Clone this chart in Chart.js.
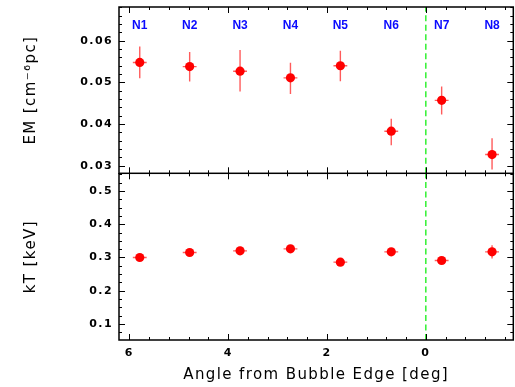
<!DOCTYPE html>
<html lang="en">
<head>
  <meta charset="UTF-8" />
  <title>EM and kT vs angle</title>
  <script src="https://cdn.jsdelivr.net/npm/chart.js"></script>
  <style>
    html, body { margin: 0; padding: 0; background: #fff; }
    #wrap { position: relative; width: 515px; height: 387px; }
  </style>
</head>
<body>
  <div id="wrap">
    <canvas id="emChart" width="515" height="174" style="position:absolute;left:0;top:0"></canvas>
    <canvas id="ktChart" width="515" height="214" style="position:absolute;left:0;top:173px"></canvas>
  </div>

  <script>
    // data
    const regions = ['N1', 'N2', 'N3', 'N4', 'N5', 'N6', 'N7', 'N8'];
    const angle = [5.79, 4.78, 3.76, 2.74, 1.73, 0.70, -0.32, -1.34];
    const angleErr = [0.14, 0.14, 0.14, 0.14, 0.14, 0.14, 0.14, 0.14];
    const emValues = [0.0548, 0.0538, 0.0527, 0.0511, 0.0540, 0.0383, 0.0457, 0.0327];
    const emLow = [0.0510, 0.0502, 0.0478, 0.0472, 0.0503, 0.0349, 0.0423, 0.0291];
    const emHigh = [0.0586, 0.0573, 0.0578, 0.0547, 0.0576, 0.0413, 0.0490, 0.0366];
    const ktValues = [0.300, 0.315, 0.320, 0.326, 0.286, 0.317, 0.291, 0.317];
    const ktErr = [0.008, 0.008, 0.012, 0.010, 0.008, 0.010, 0.008, 0.020];

    // axes
    const xTicks = [6, 4, 2, 0];
    const emTicks = [0.03, 0.04, 0.05, 0.06];
    const ktTicks = [0.1, 0.2, 0.3, 0.4, 0.5];
    const xRange = [-1.77, 6.21];
    const emRange = [0.0282, 0.0681];
    const ktRange = [0.052, 0.553];

    const FONT = '"DejaVu Sans", sans-serif';
    const RED = '#ff0000';
    const ERR = 'rgba(255, 50, 50, 0.8)';
    const GREEN = '#11ee11';

    function steps(from, to, step) {
      const out = [];
      for (let v = from; v <= to + step / 1000; v += step) out.push(Math.round(v * 1e6) / 1e6);
      return out;
    }

    // error bars as line segments broken by null gaps
    function errorBars(xs, xe, lo, mid, hi) {
      const pts = [];
      xs.forEach((x, i) => {
        pts.push({ x: x, y: lo[i] }, { x: x, y: hi[i] }, { x: x, y: null });
        pts.push({ x: x - xe[i], y: mid[i] }, { x: x + xe[i], y: mid[i] }, { x: x, y: null });
      });
      return pts;
    }

    // box round the plot with inward ticks on all four sides
    const frameTicks = {
      id: 'frameTicks',
      afterDraw(chart, args, o) {
        const { ctx, chartArea: a } = chart;
        const sx = chart.scales.x, sy = chart.scales.y;
        ctx.save();
        ctx.strokeStyle = '#000';
        ctx.lineWidth = 1;
        const tick = (vals, len, horiz) => {
          vals.forEach(v => {
            ctx.beginPath();
            if (horiz) {
              if (v < xRange[0] || v > xRange[1]) return;
              const p = Math.round(sx.getPixelForValue(v)) + 0.5;
              ctx.moveTo(p, a.bottom); ctx.lineTo(p, a.bottom - len);
              ctx.moveTo(p, a.top); ctx.lineTo(p, a.top + len);
            } else {
              if (v < sy.min || v > sy.max) return;
              const p = Math.round(sy.getPixelForValue(v)) + 0.5;
              ctx.moveTo(a.left, p); ctx.lineTo(a.left + len, p);
              ctx.moveTo(a.right, p); ctx.lineTo(a.right - len, p);
            }
            ctx.stroke();
          });
        };
        tick(steps(-1.6, 6.0, 0.4), 3, true);
        tick(xTicks, 6, true);
        tick(o.yMinor, 3, false);
        tick(o.yMajor, 6, false);
        ctx.lineWidth = 1.5;
        ctx.strokeRect(a.left, a.top, a.right - a.left, a.bottom - a.top);
        ctx.restore();
      }
    };

    const spacing = {
      id: 'spacing',
      beforeDraw(chart) { chart.ctx.letterSpacing = '1.4px'; }
    };

    const regionLabels = {
      id: 'regionLabels',
      afterDraw(chart, args, o) {
        if (!o.show) return;
        const { ctx } = chart;
        ctx.save();
        ctx.letterSpacing = '0px';
        ctx.fillStyle = '#0a0aff';
        ctx.font = 'bold 12px "Liberation Sans", sans-serif';
        ctx.textAlign = 'center';
        ctx.textBaseline = 'middle';
        regions.forEach((r, i) => ctx.fillText(r, chart.scales.x.getPixelForValue(angle[i]), 26));
        ctx.restore();
      }
    };

    function yAxis(range, ticks, digits, title) {
      return {
        min: range[0], max: range[1],
        afterBuildTicks: s => { s.ticks = ticks.map(v => ({ value: v })); },
        afterFit: s => { s.width = 119; s.paddingTop = 0; s.paddingBottom = 0; },
        grid: { display: false, drawTicks: false },
        border: { display: false },
        ticks: { padding: 6, color: '#000', font: { family: FONT, size: 11, weight: 'bold' },
                 callback: v => v.toFixed(digits) },
        title: { display: true, text: title, color: '#000', padding: { top: 22 },
                 font: { family: FONT, size: 15 } }
      };
    }

    function panel(id, yMid, yLo, yHi, range, ticks, digits, title, minor, showX) {
      const x = {
        type: 'linear', reverse: true, min: xRange[0], max: xRange[1],
        display: showX,
        afterBuildTicks: s => { s.ticks = xTicks.map(v => ({ value: v })); },
        afterFit: s => { s.height = showX ? 47 : 0; s.paddingLeft = 0; s.paddingRight = 0; },
        grid: { display: false, drawTicks: false },
        border: { display: false },
        ticks: { padding: 7, color: '#000', maxRotation: 0, font: { family: FONT, size: 11, weight: 'bold' } },
        title: { display: true, text: 'Angle from Bubble Edge [deg]', color: '#000',
                 padding: { top: 0, bottom: 3 }, font: { family: FONT, size: 15 } }
      };
      return new Chart(document.getElementById(id), {
        type: 'scatter',
        data: {
          datasets: [
            {
              data: angle.map((a, i) => ({ x: a, y: yMid[i] })),
              pointRadius: 4.6, pointBackgroundColor: RED, pointBorderWidth: 0
            },
            {
              type: 'line',
              data: errorBars(angle, angleErr, yLo, yMid, yHi),
              borderColor: ERR, borderWidth: 1.4, pointRadius: 0, spanGaps: false
            },
            {
              type: 'line',
              data: [{ x: 0, y: range[0] }, { x: 0, y: range[1] }],
              borderColor: GREEN, borderWidth: 1.3, borderDash: [6, 3.5], pointRadius: 0
            }
          ]
        },
        options: {
          responsive: false,
          animation: false,
          events: [],
          layout: {
            autoPadding: false,
            padding: showX ? { top: 0.3, right: 1.7 } : { top: 7, bottom: 0.7, right: 1.7 }
          },
          scales: { x: x, y: yAxis(range, ticks, digits, title) },
          plugins: {
            legend: { display: false },
            tooltip: { enabled: false },
            frameTicks: { yMajor: ticks, yMinor: minor },
            regionLabels: { show: !showX }
          }
        },
        plugins: [spacing, frameTicks, regionLabels]
      });
    }

    panel('emChart', emValues, emLow, emHigh, emRange, emTicks, 2, 'EM [cm\u207B\u2076pc]',
          steps(0.03, 0.068, 0.002), false);
    panel('ktChart', ktValues, ktValues.map((v, i) => v - ktErr[i]), ktValues.map((v, i) => v + ktErr[i]),
          ktRange, ktTicks, 1, 'kT [keV]', steps(0.075, 0.55, 0.025), true);
  </script>
</body>
</html>
